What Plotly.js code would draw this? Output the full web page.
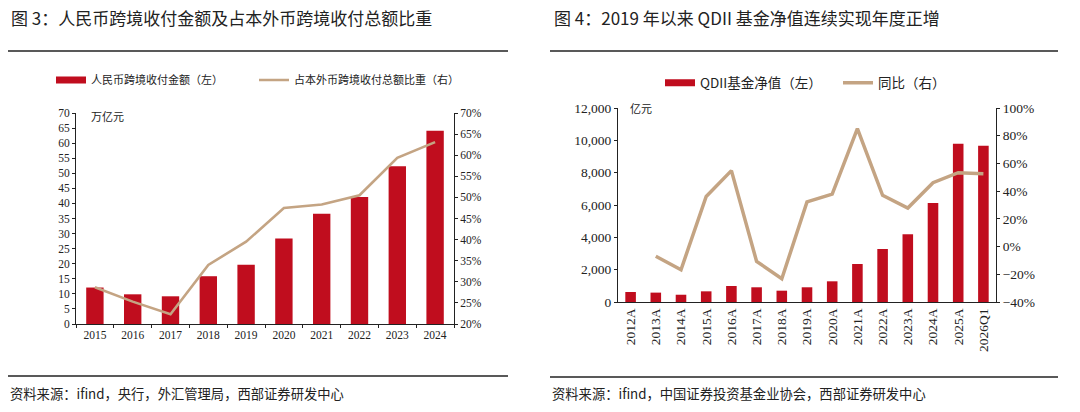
<!DOCTYPE html>
<html>
<head>
<meta charset="utf-8">
<script src="https://cdn.plot.ly/plotly-3.0.1.min.js"></script>
<style>html,body{margin:0;padding:0;background:#fff;}#chart{width:1080px;height:412px;}</style>
</head>
<body>
<div id="chart"></div>
<script>
// ---- Data (left chart) ----
const years1 = ['2015','2016','2017','2018','2019','2020','2021','2022','2023','2024'];
const rmbAmount = [12.1, 9.85, 9.19, 15.85, 19.67, 28.39, 36.61, 42.1, 52.3, 64.1];
const rmbShare = [0.287, 0.253, 0.223, 0.340, 0.395, 0.475, 0.483, 0.505, 0.594, 0.631];

// ---- Data (right chart) ----
const periods2 = ['2012A','2013A','2014A','2015A','2016A','2017A','2018A','2019A','2020A','2021A','2022A','2023A','2024A','2025A','2026Q1'];
const qdiiNav = [620, 580, 450, 660, 990, 910, 700, 910, 1280, 2350, 3280, 4190, 6120, 9790, 9670];
const qdiiYoy = [null, -0.07, -0.167, 0.362, 0.548, -0.107, -0.232, 0.322, 0.379, 0.851, 0.37, 0.278, 0.461, 0.533, 0.526];

// ---- Text ----
const title1 = '图 3：人民币跨境收付金额及占本外币跨境收付总额比重';
const title2 = '图 4：2019 年以来 QDII 基金净值连续实现年度正增';
const source1 = '资料来源：ifind，央行，外汇管理局，西部证券研发中心';
const source2 = '资料来源：ifind，中国证券投资基金业协会，西部证券研发中心';
const name1a = '人民币跨境收付金额（左）';
const name1b = '占本外币跨境收付总额比重（右）';
const name2a = 'QDII基金净值（左）';
const name2b = '同比（右）';
const unit1 = '万亿元';
const unit2 = '亿元';

const W = 1080, H = 412;
const px = v => v / W;
const py = v => (H - v) / H;

const RED = '#C00D1E';
const TAN = '#C4A483';
const CJK = '"Noto Sans CJK SC", "Noto Sans", sans-serif';
const SERIF = '"Liberation Serif", "Times New Roman", serif';

const traces = [
  // legend keys for the bar series (wide flat swatch, as in the source)
  {type:'scatter', mode:'lines', x:[null], y:[null], name: name1a, xaxis:'x', yaxis:'y',
   line:{color: RED, width: 7}, legend:'legend', hoverinfo:'skip'},
  {type:'bar', x: years1, y: rmbAmount, name: name1a, xaxis:'x', yaxis:'y',
   marker:{color: RED}, width: 0.46, showlegend:false, hoverinfo:'skip'},
  {type:'scatter', mode:'lines', x: years1, y: rmbShare, name: name1b, xaxis:'x', yaxis:'y2',
   line:{color: TAN, width: 2.6}, legend:'legend', hoverinfo:'skip'},
  {type:'scatter', mode:'lines', x:[null], y:[null], name: name2a, xaxis:'x2', yaxis:'y3',
   line:{color: RED, width: 7}, legend:'legend2', hoverinfo:'skip'},
  {type:'bar', x: periods2, y: qdiiNav, name: name2a, xaxis:'x2', yaxis:'y3',
   marker:{color: RED}, width: 0.42, showlegend:false, hoverinfo:'skip'},
  {type:'scatter', mode:'lines', x: periods2, y: qdiiYoy, name: name2b, xaxis:'x2', yaxis:'y4',
   line:{color: TAN, width: 3.5}, legend:'legend2', hoverinfo:'skip', connectgaps:false}
];

const axBase = {showgrid:false, zeroline:false, showline:true, linecolor:'#222', linewidth:1,
  ticks:'outside', ticklen:3, tickcolor:'#222', fixedrange:true};

const layout = {
  width: W, height: H,
  margin:{l:0, r:0, t:0, b:0},
  paper_bgcolor:'#fff', plot_bgcolor:'rgba(0,0,0,0)',
  showlegend:true,
  font:{family: SERIF, color:'#222'},
  xaxis: Object.assign({}, axBase, {domain:[px(76), px(454)], anchor:'y', type:'category',
    categoryarray: years1, categoryorder:'array',
    tickson:'boundaries', tickfont:{family:SERIF, size:11.5, color:'#222'}}),
  yaxis: Object.assign({}, axBase, {domain:[py(324), py(113)], anchor:'x', range:[0,70], dtick:5,
    tickfont:{family:SERIF, size:11.5, color:'#222'}}),
  yaxis2: Object.assign({}, axBase, {overlaying:'y', side:'right', anchor:'x', range:[0.20,0.70], dtick:0.05,
    tickformat:'.0%', tickfont:{family:SERIF, size:11.5, color:'#222'}}),
  xaxis2: Object.assign({}, axBase, {domain:[px(618), px(996)], anchor:'y3', type:'category',
    categoryarray: periods2, categoryorder:'array',
    ticks:'', tickangle:-90, tickfont:{family:SERIF, size:13.5, color:'#222'}}),
  yaxis3: Object.assign({}, axBase, {domain:[py(302), py(108)], anchor:'x2', range:[0,12000], dtick:2000,
    tickformat:',d', tickfont:{family:SERIF, size:13.5, color:'#222'}}),
  yaxis4: Object.assign({}, axBase, {overlaying:'y3', side:'right', anchor:'x2', range:[-0.4,1.0], dtick:0.2,
    tickformat:'.0%', tickfont:{family:SERIF, size:13.5, color:'#222'}}),
  legend: {orientation:'h', x: px(51), y: py(80), xanchor:'left', yanchor:'middle',
    font:{family:CJK, size:11, color:'#222'}, entrywidth:158, entrywidthmode:'pixels',
    bgcolor:'rgba(0,0,0,0)', itemclick:false, itemdoubleclick:false, traceorder:'normal'},
  legend2: {orientation:'h', x: px(660), y: py(83), xanchor:'left', yanchor:'middle',
    font:{family:CJK, size:13.5, color:'#222'}, entrywidth:133, entrywidthmode:'pixels',
    bgcolor:'rgba(0,0,0,0)', itemclick:false, itemdoubleclick:false, traceorder:'normal'},
  shapes: [
    {type:'line', xref:'paper', yref:'paper', x0:px(8), x1:px(508), y0:py(51), y1:py(51), line:{color:'#222', width:1.6}},
    {type:'line', xref:'paper', yref:'paper', x0:px(8), x1:px(508), y0:py(376), y1:py(376), line:{color:'#222', width:1.6}},
    {type:'line', xref:'paper', yref:'paper', x0:px(550), x1:px(1058), y0:py(51), y1:py(51), line:{color:'#222', width:1.6}},
    {type:'line', xref:'paper', yref:'paper', x0:px(550), x1:px(1058), y0:py(377), y1:py(377), line:{color:'#222', width:1.6}}
  ],
  annotations: [
    {text:title1, xref:'paper', yref:'paper', x:px(9), y:py(18), xanchor:'left', yanchor:'middle', showarrow:false,
     font:{family:CJK, size:17, color:'#222'}},
    {text:title2, xref:'paper', yref:'paper', x:px(552), y:py(18), xanchor:'left', yanchor:'middle', showarrow:false,
     font:{family:CJK, size:17, color:'#222'}},
    {text:source1, xref:'paper', yref:'paper', x:px(8), y:py(393), xanchor:'left', yanchor:'middle', showarrow:false,
     font:{family:CJK, size:13.3, color:'#222'}},
    {text:source2, xref:'paper', yref:'paper', x:px(550), y:py(393), xanchor:'left', yanchor:'middle', showarrow:false,
     font:{family:CJK, size:13.3, color:'#222'}},
    {text:unit1, xref:'paper', yref:'paper', x:px(89), y:py(116), xanchor:'left', yanchor:'middle', showarrow:false,
     font:{family:CJK, size:11, color:'#222'}},
    {text:unit2, xref:'paper', yref:'paper', x:px(628), y:py(108), xanchor:'left', yanchor:'middle', showarrow:false,
     font:{family:CJK, size:11, color:'#222'}}
  ]
};

Plotly.newPlot('chart', traces, layout, {displayModeBar:false, staticPlot:true});
</script>
</body>
</html>
